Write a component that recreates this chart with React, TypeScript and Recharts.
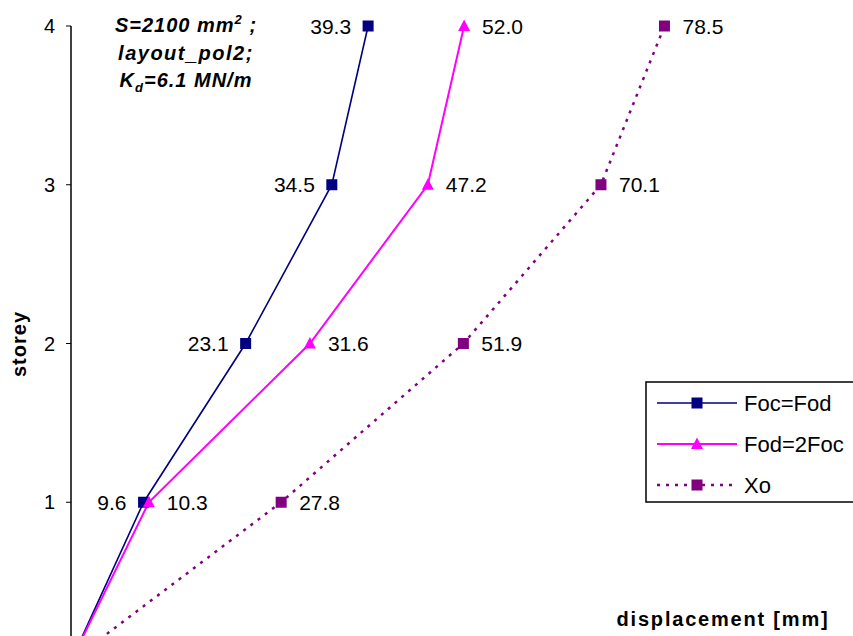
import React from 'react';
import { LineChart, Line, XAxis, YAxis, Customized } from 'recharts';

const storeys = [0, 1, 2, 3, 4];
const storeyTicks = [1, 2, 3, 4];
const focFod = [0, 9.6, 23.1, 34.5, 39.3];
const fod2Foc = [0, 10.3, 31.6, 47.2, 52.0];
const xo = [0, 27.8, 51.9, 70.1, 78.5];

const FONT = 'Arial, "Liberation Sans", sans-serif';

type SeriesDef = {
  name: string;
  values: number[];
  color: string;
  width: number;
  dash?: string;
  marker: 'square' | 'triangle';
  labelSide: 'left' | 'right';
};

const series: SeriesDef[] = [
  { name: 'Foc=Fod', values: focFod, color: '#000080', width: 1.6, marker: 'square', labelSide: 'left' },
  { name: 'Fod=2Foc', values: fod2Foc, color: '#FF00FF', width: 2, marker: 'triangle', labelSide: 'right' },
  { name: 'Xo', values: xo, color: '#800080', width: 2.5, dash: '3 6', marker: 'square', labelSide: 'right' },
];

const toRows = (values: number[]) => storeys.map((s, i) => ({ s, d: values[i] }));

const Marker = ({ kind, cx, cy, color }: { kind: string; cx: number; cy: number; color: string }) =>
  kind === 'square' ? (
    <rect x={cx - 5.5} y={cy - 5.5} width={11} height={11} fill={color} />
  ) : (
    <polygon points={`${cx},${cy - 6.5} ${cx - 6},${cy + 5} ${cx + 6},${cy + 5}`} fill={color} />
  );

const makeDot = (def: SeriesDef) => (props: any) => {
  const { cx, cy, index, payload } = props;
  if (index === 0 || cx == null) return <g key={`${def.name}-${index}`} />;
  const left = def.labelSide === 'left';
  return (
    <g key={`${def.name}-${index}`}>
      <Marker kind={def.marker} cx={cx} cy={cy} color={def.color} />
      <text
        x={left ? cx - 17 : cx + 18}
        y={cy}
        textAnchor={left ? 'end' : 'start'}
        dominantBaseline="central"
        fontSize={21}
        fontFamily={FONT}
        fill="#000"
      >
        {payload.d.toFixed(1)}
      </text>
    </g>
  );
};

const Annotations = () => (
  <g fontFamily={FONT} fill="#000">
    <text x={186} y={32} textAnchor="middle" fontSize={20} fontWeight="bold" fontStyle="italic" letterSpacing={1}>
      S=2100 mm<tspan fontSize={13} dy={-8}>2</tspan>
      <tspan dy={8}> ;</tspan>
    </text>
    <text x={186} y={59.5} textAnchor="middle" fontSize={20} fontWeight="bold" fontStyle="italic" letterSpacing={1.5}>
      layout_pol2;
    </text>
    <text x={186} y={87} textAnchor="middle" fontSize={20} fontWeight="bold" fontStyle="italic" letterSpacing={1}>
      K<tspan fontSize={13} dy={5}>d</tspan>
      <tspan dy={-5}>=6.1 MN/m</tspan>
    </text>
    <text x={723} y={626} textAnchor="middle" fontSize={20} fontWeight="bold" letterSpacing={1.8}>
      displacement [mm]
    </text>
    <text
      x={0}
      y={0}
      transform="translate(26, 344) rotate(-90)"
      textAnchor="middle"
      fontSize={20}
      fontWeight="bold"
      letterSpacing={1}
    >
      storey
    </text>
    {/* legend */}
    <rect x={646} y={382} width={230} height={120} fill="#fff" stroke="#000" strokeWidth={1.5} />
    {series.map((def, i) => {
      const y = 403 + i * 41;
      return (
        <g key={def.name}>
          <line x1={657} x2={737} y1={y} y2={y} stroke={def.color} strokeWidth={def.width} strokeDasharray={def.dash} />
          <Marker kind={def.marker} cx={697} cy={y} color={def.color} />
          <text x={744} y={y} dominantBaseline="central" fontSize={22} fontFamily={FONT}>
            {def.name}
          </text>
        </g>
      );
    })}
  </g>
);

export default function App() {
  return (
    <div style={{ position: 'fixed', left: 0, top: 0, width: 853, height: 636, overflow: 'hidden', background: '#fff' }}>
      <LineChart width={853} height={700} margin={{ top: 26, right: 26, bottom: 39, left: 0 }}>
        <XAxis type="number" dataKey="d" domain={[0, 100]} allowDataOverflow hide />
        <YAxis
          type="number"
          dataKey="s"
          domain={[0, 4]}
          ticks={storeyTicks}
          width={71}
          axisLine={{ stroke: '#000', strokeWidth: 1.5 }}
          tickLine={{ stroke: '#000', strokeWidth: 1 }}
          tickSize={5}
          tickMargin={11}
          tick={{ fontSize: 20, fill: '#000', fontFamily: FONT }}
        />
        {series.map((def) => (
          <Line
            key={def.name}
            data={toRows(def.values)}
            dataKey="s"
            name={def.name}
            type="linear"
            stroke={def.color}
            strokeWidth={def.width}
            strokeDasharray={def.dash}
            dot={makeDot(def)}
            activeDot={false}
            isAnimationActive={false}
          />
        ))}
        <Customized component={Annotations} />
      </LineChart>
    </div>
  );
}
